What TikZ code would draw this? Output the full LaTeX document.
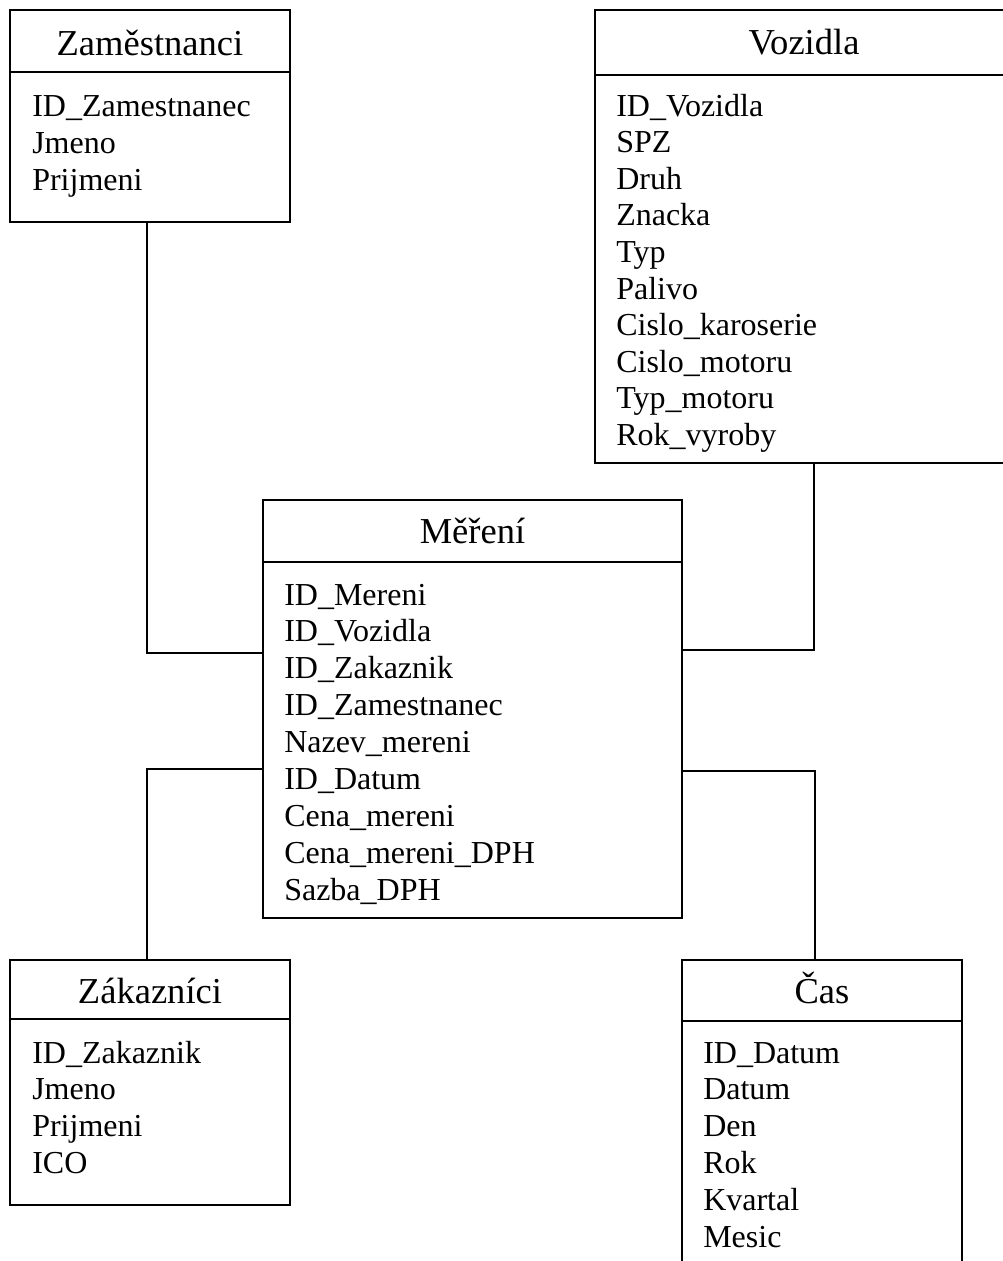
\documentclass[tikz,border=0pt]{standalone}
\usepackage{fontspec}
\setmainfont{Liberation Serif}
\usetikzlibrary{fit}
\begin{document}
\begin{tikzpicture}[x=0.75pt,y=-0.75pt,
  tbox/.style={draw,line width=1.5pt,inner sep=0pt},
  sepline/.style={line width=1.5pt},
  title/.style={anchor=base,inner sep=0pt,font=\fontsize{27.4}{30}\selectfont},
  field/.style={anchor=base west,inner sep=0pt,font=\fontsize{24}{28}\selectfont},
  link/.style={line width=1.5pt}]
\useasboundingbox (0,0) rectangle (1003,1261);
\clip (0,0) rectangle (1003,1261);

% Zamestnanci
\node[tbox,fit={(10,10)(290,222)}] (zam) {};
\draw[sepline] (zam.west |- 0,72) -- (zam.east |- 0,72);
\node[title] (zam-t) at (150,55) {Zaměstnanci};
\foreach \t [count=\i] in {ID\_Zamestnanec,Jmeno,Prijmeni}
  \node[field] (zam-f\i) at (32,{116+37*(\i-1)}) {\t};

% Vozidla
\node[tbox,fit={(595,10)(1013,463)}] (voz) {};
\draw[sepline] (voz.west |- 0,75) -- (voz.east |- 0,75);
\node[title] (voz-t) at (804,54) {Vozidla};
\foreach \t [count=\i] in {ID\_Vozidla,SPZ,Druh,Znacka,Typ,Palivo,Cislo\_karoserie,Cislo\_motoru,Typ\_motoru,Rok\_vyroby}
  \node[field] (voz-f\i) at (616,{116+36.6*(\i-1)}) {\t};

% Mereni
\node[tbox,fit={(263,500)(682,918)}] (mer) {};
\draw[sepline] (mer.west |- 0,562) -- (mer.east |- 0,562);
\node[title] (mer-t) at (472.5,543) {Měření};
\foreach \t [count=\i] in {ID\_Mereni,ID\_Vozidla,ID\_Zakaznik,ID\_Zamestnanec,Nazev\_mereni,ID\_Datum,Cena\_mereni,Cena\_mereni\_DPH,Sazba\_DPH}
  \node[field] (mer-f\i) at (284,{605+36.9*(\i-1)}) {\t};

% Zakaznici
\node[tbox,fit={(10,960)(290,1205)}] (zak) {};
\draw[sepline] (zak.west |- 0,1019) -- (zak.east |- 0,1019);
\node[title] (zak-t) at (150,1003) {Zákazníci};
\foreach \t [count=\i] in {ID\_Zakaznik,Jmeno,Prijmeni,ICO}
  \node[field] (zak-f\i) at (32,{1063+36.7*(\i-1)}) {\t};

% Cas
\node[tbox,fit={(682,960)(962,1300)}] (cas) {};
\draw[sepline] (cas.west |- 0,1021) -- (cas.east |- 0,1021);
\node[title] (cas-t) at (822,1003) {Čas};
\foreach \t [count=\i] in {ID\_Datum,Datum,Den,Rok,Kvartal,Mesic}
  \node[field] (cas-f\i) at (703,{1063+36.8*(\i-1)}) {\t};

% connectors
\coordinate (j1) at (147,653);
\coordinate (j2) at (814,650);
\coordinate (j3) at (147,769);
\coordinate (j4) at (815,771);
\draw[link] (zam.south -| j1) |- (mer.west |- j1);
\draw[link] (voz.south -| j2) |- (mer.east |- j2);
\draw[link] (zak.north -| j3) |- (mer.west |- j3);
\draw[link] (cas.north -| j4) |- (mer.east |- j4);
\end{tikzpicture}
\end{document}
